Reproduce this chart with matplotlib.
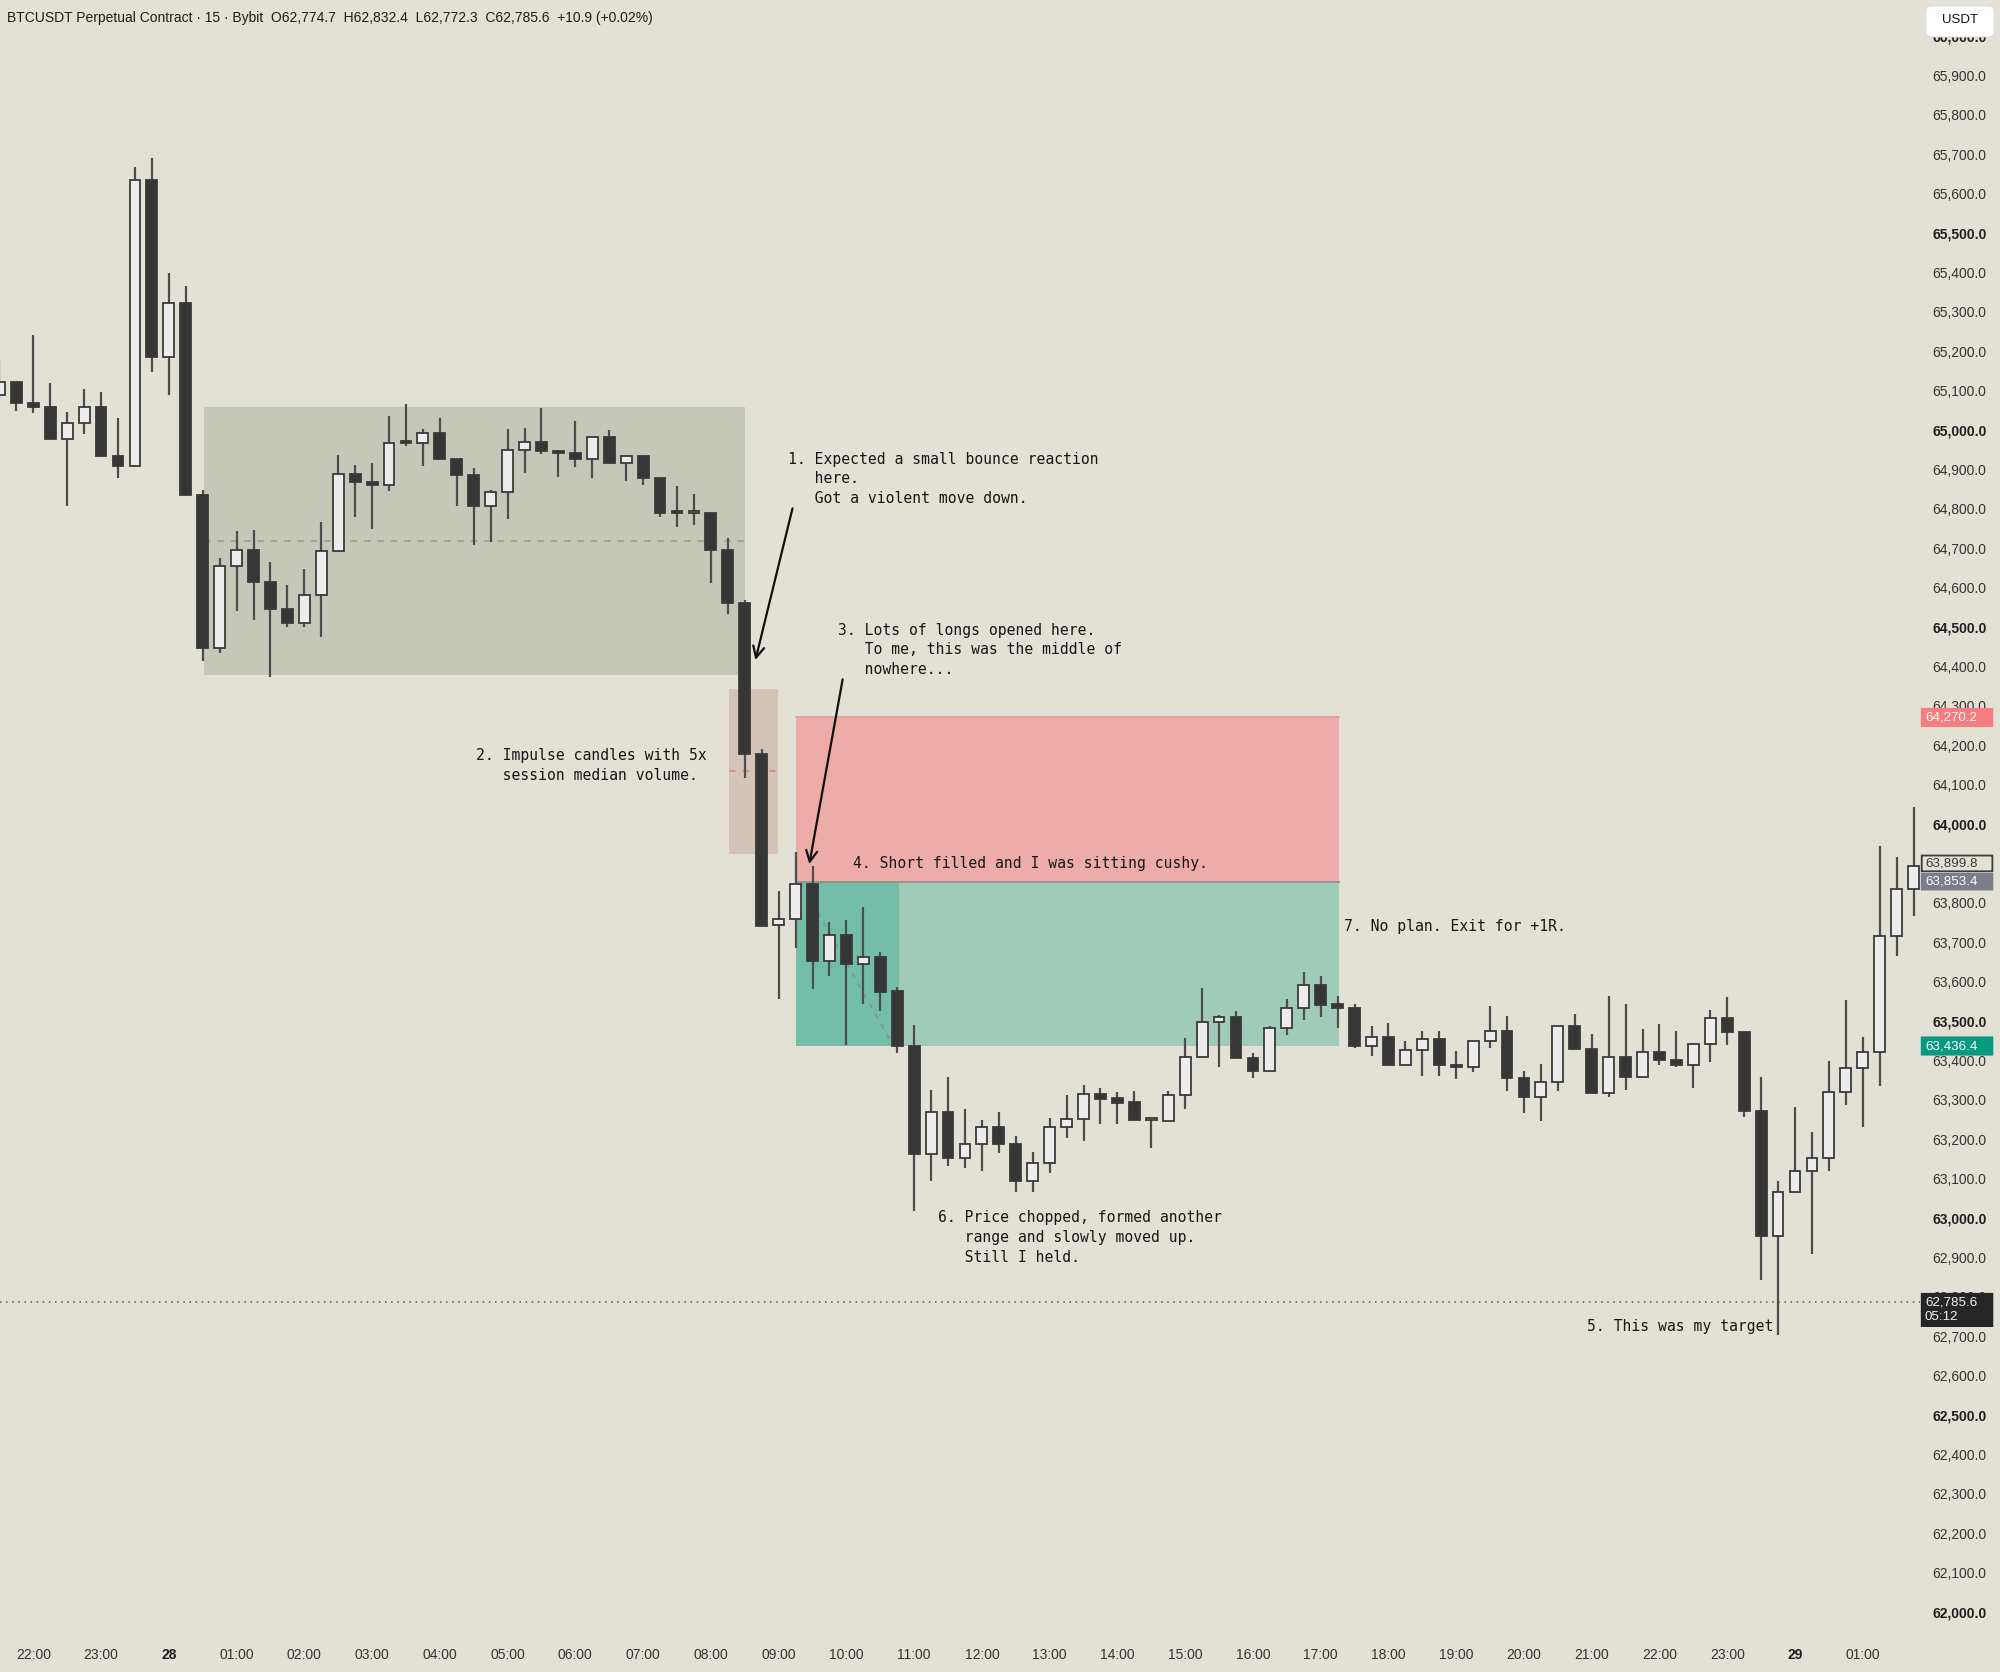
import numpy as np
import matplotlib.pyplot as plt
from matplotlib.patches import Rectangle, FancyBboxPatch
from matplotlib.transforms import blended_transform_factory

# 15m candles, index 0 = 22:00 (27th)
idx = np.arange(-2, 112)
opens = [65089, 65122, 65068, 65057, 64977, 65018, 65057, 64935, 64909, 65634,
         65184, 65323, 64834, 64447, 64655, 64696, 64615, 64546, 64510, 64581,
         64693, 64889, 64867, 64859, 64970, 64966, 64991, 64925, 64886, 64806,
         64842, 64950, 64969, 64947, 64941, 64925, 64983, 64916, 64935, 64877,
         64789, 64788, 64790, 64696, 64561, 64178, 63744, 63759, 63848, 63653,
         63718, 63645, 63663, 63575, 63437, 63162, 63270, 63152, 63188, 63232,
         63188, 63093, 63139, 63232, 63251, 63315, 63304, 63294, 63248, 63245,
         63312, 63408, 63498, 63509, 63405, 63374, 63482, 63534, 63592, 63543,
         63533, 63437, 63460, 63388, 63427, 63454, 63388, 63382, 63450, 63474,
         63355, 63306, 63344, 63488, 63429, 63317, 63408, 63359, 63421, 63401,
         63389, 63442, 63507, 63471, 63271, 62954, 63067, 63120, 63153, 63320,
         63380, 63421, 63715, 63836]
highs = [65181, 65122, 65242, 65120, 65045, 65104, 65095, 65030, 65668, 65689,
         65398, 65365, 64848, 64676, 64744, 64746, 64664, 64607, 64648, 64767,
         64936, 64912, 64915, 65036, 65066, 65002, 65030, 64925, 64903, 64847,
         65002, 65005, 65055, 64950, 65022, 64985, 65000, 64937, 64935, 64877,
         64857, 64838, 64790, 64725, 64568, 64189, 63831, 63928, 63893, 63752,
         63756, 63788, 63676, 63585, 63490, 63326, 63359, 63277, 63249, 63268,
         63207, 63167, 63255, 63312, 63338, 63329, 63319, 63323, 63249, 63321,
         63456, 63583, 63515, 63526, 63419, 63486, 63556, 63623, 63615, 63563,
         63543, 63486, 63495, 63450, 63475, 63475, 63425, 63450, 63537, 63513,
         63372, 63392, 63488, 63518, 63467, 63563, 63543, 63480, 63493, 63474,
         63444, 63529, 63560, 63471, 63359, 63094, 63282, 63217, 63398, 63552,
         63460, 63945, 63915, 64044]
lows = [65080, 65048, 65042, 64977, 64807, 64990, 64934, 64877, 64905, 65148,
        65088, 64834, 64413, 64433, 64540, 64518, 64374, 64499, 64499, 64474,
        64693, 64778, 64748, 64846, 64960, 64908, 64925, 64806, 64708, 64715,
        64774, 64891, 64939, 64880, 64905, 64877, 64916, 64871, 64860, 64778,
        64753, 64759, 64612, 64533, 64116, 63740, 63557, 63684, 63581, 63613,
        63440, 63543, 63526, 63419, 63018, 63094, 63133, 63128, 63118, 63165,
        63067, 63067, 63113, 63203, 63196, 63239, 63239, 63248, 63178, 63245,
        63277, 63408, 63382, 63405, 63355, 63374, 63464, 63503, 63509, 63481,
        63431, 63410, 63388, 63388, 63360, 63360, 63353, 63371, 63431, 63321,
        63266, 63245, 63321, 63429, 63317, 63306, 63325, 63359, 63389, 63384,
        63330, 63396, 63439, 63257, 62843, 62704, 63067, 62909, 63119, 63287,
        63230, 63335, 63665, 63767]
closes = [65122, 65068, 65057, 64977, 65018, 65057, 64935, 64909, 65634, 65184,
          65323, 64834, 64447, 64655, 64696, 64615, 64546, 64510, 64581, 64693,
          64889, 64867, 64859, 64968, 64966, 64991, 64925, 64886, 64806, 64842,
          64950, 64969, 64947, 64941, 64925, 64983, 64916, 64935, 64877, 64789,
          64788, 64790, 64696, 64561, 64178, 63742, 63759, 63848, 63653, 63718,
          63645, 63663, 63574, 63437, 63162, 63270, 63152, 63188, 63232, 63188,
          63093, 63139, 63232, 63251, 63315, 63302, 63292, 63248, 63249, 63312,
          63408, 63498, 63509, 63405, 63374, 63482, 63534, 63592, 63541, 63533,
          63437, 63460, 63388, 63427, 63454, 63388, 63382, 63450, 63474, 63355,
          63306, 63344, 63488, 63429, 63317, 63408, 63359, 63422, 63401, 63389,
          63442, 63507, 63471, 63271, 62954, 63067, 63120, 63153, 63320, 63380,
          63421, 63715, 63836, 63894]

time_ticks = [0, 4, 8, 12, 16, 20, 24, 28, 32, 36, 40, 44, 48, 52, 56, 60, 64,
              68, 72, 76, 80, 84, 88, 92, 96, 100, 104, 108]
time_labels = ['22:00', '23:00', '28', '01:00', '02:00', '03:00', '04:00',
               '05:00', '06:00', '07:00', '08:00', '09:00', '10:00', '11:00',
               '12:00', '13:00', '14:00', '15:00', '16:00', '17:00', '18:00',
               '19:00', '20:00', '21:00', '22:00', '23:00', '29', '01:00']
price_ticks = np.arange(62000, 66001, 100)

# drawings (index range, price range)
range_box = (10.1, 42.0, 64378, 65057)
impulse_box = (41.05, 43.98, 63924, 64343)
entry = 63853.4
stop = 64270.2
target = 63436.4
pos_span = (45.0, 77.1)
pos_open_until = 51.1
last_price = 62785.6
cur_price = 63899.8

notes = [
    (44.55, 64926, ['1. Expected a small bounce reaction',
                    '   here.',
                    '   Got a violent move down.']),
    (26.13, 64173, ['2. Impulse candles with 5x',
                    '   session median volume.']),
    (47.5, 64492, ['3. Lots of longs opened here.',
                   '   To me, this was the middle of',
                   '   nowhere...']),
    (48.39, 63900, ['4. Short filled and I was sitting cushy.']),
    (91.72, 62725, ['5. This was my target']),
    (53.38, 63000, ['6. Price chopped, formed another',
                    '   range and slowly moved up.',
                    '   Still I held.']),
    (77.37, 63739, ['7. No plan. Exit for +1R.']),
]
arrows = [((44.82, 64801), (42.63, 64416)),
          ((47.78, 64367), (45.81, 63898))]

BG = '#e3e1d5'
UP = '#ececec'
DOWN = '#363636'
EDGE = '#3a3a3a'
WICK = '#4d4d4d'


def main():
    fig = plt.figure(figsize=(20, 16.72), dpi=100, facecolor=BG)
    ax = fig.add_axes([0, 32 / 1672, 0.96, 1640 / 1672])
    ax.set_facecolor(BG)
    ax.set_xlim(-1.966, 111.38)
    ax.set_ylim(61929, 66091)
    for s in ax.spines.values():
        s.set_visible(False)

    draw_boxes(ax)
    draw_candles(ax)
    draw_notes(ax)
    draw_axes(fig, ax)

    fig.savefig('out.png', dpi=100, facecolor=BG)


def draw_boxes(ax):
    x0, x1, lo, hi = range_box
    ax.add_patch(Rectangle((x0, lo), x1 - x0, hi - lo, fc='#c5c7b9',
                           ec='none', zorder=1))
    ax.plot([x0, x1], [(lo + hi) / 2] * 2, ls=(0, (4, 4)), color='#9ea191',
            lw=1.2, zorder=1.5)

    x0, x1, lo, hi = impulse_box
    ax.add_patch(Rectangle((x0, lo), x1 - x0, hi - lo, fc='#d4c3b9',
                           ec='none', zorder=1))
    ax.plot([x0, x1], [(lo + hi) / 2] * 2, ls=(0, (4, 4)), color='#d08a86',
            lw=1.2, zorder=1.5)

    p0, p1 = pos_span
    ax.add_patch(Rectangle((p0, entry), p1 - p0, stop - entry, fc='#edaca8',
                           ec='none', zorder=1))
    ax.plot([p0, p1], [stop, stop], color='#e89a96', lw=1.2, zorder=1.5)
    ax.add_patch(Rectangle((p0, target), p1 - p0, entry - target,
                           fc='#a0cbb9', ec='none', zorder=1))
    ax.add_patch(Rectangle((p0, target), pos_open_until - p0, entry - target,
                           fc='#74bea9', ec='none', zorder=1.2))
    ax.plot([p0, p1], [entry, entry], color='#8d8f8c', lw=1.2, zorder=1.5)
    ax.plot([p0 + 0.3, 50.75], [entry, target + 2], ls=(0, (3, 4)),
            color='#7f968d', lw=1.2, zorder=1.6)

    ax.axhline(last_price, color='#555555', ls=(0, (1, 3)), lw=1.1, zorder=1.5)


def draw_candles(ax):
    o = np.array(opens, float)
    h = np.array(highs, float)
    l = np.array(lows, float)
    c = np.array(closes, float)
    up = c >= o
    bottom = np.minimum(o, c)
    height = np.maximum(np.abs(c - o), 5)
    ax.vlines(idx, l, h, color=WICK, lw=1.6, zorder=2)
    ax.bar(idx[up], height[up], bottom=bottom[up], width=0.64, color=UP,
           edgecolor=EDGE, linewidth=1.3, zorder=3)
    ax.bar(idx[~up], height[~up], bottom=bottom[~up], width=0.64, color=DOWN,
           edgecolor=EDGE, linewidth=1.3, zorder=3)


def draw_notes(ax):
    step = 50.3
    for x, y, lines in notes:
        for i, line in enumerate(lines):
            ax.text(x, y - i * step, line, family='DejaVu Sans Mono',
                    fontsize=10.6, color='#161616', va='center', ha='left',
                    zorder=6)
    for tail, head in arrows:
        ax.annotate('', xy=head, xytext=tail,
                    arrowprops=dict(arrowstyle='->', color='#111111', lw=1.6,
                                    mutation_scale=20, shrinkA=0, shrinkB=0),
                    zorder=6)


def price_tag(ax, y, lines, fc, tc, ec=None, hgt=44):
    tr = blended_transform_factory(ax.transAxes, ax.transData)
    h = hgt + 38 * (len(lines) - 1)
    top = y + hgt / 2
    ax.add_patch(FancyBboxPatch((1.0009, top - h), 0.0368, h,
                                boxstyle='round,pad=0,rounding_size=0.001',
                                transform=tr, fc=fc, ec=ec or fc, lw=1.3,
                                clip_on=False, zorder=8))
    for i, txt in enumerate(lines):
        ax.text(1.0026, y - i * 38, txt, transform=tr, fontsize=9.6,
                family='Liberation Sans', color=tc, va='center', ha='left',
                clip_on=False, zorder=9)


def draw_axes(fig, ax):
    ax.yaxis.tick_right()
    ax.set_yticks(price_ticks)
    ax.set_yticklabels([f'{p:,.1f}' for p in price_ticks])
    ax.tick_params(axis='y', length=0, pad=9, labelsize=10,
                   labelcolor='#333333')
    for lab, p in zip(ax.get_yticklabels(), price_ticks):
        lab.set_family('Liberation Sans')
        if p % 500 == 0:
            lab.set_fontweight('bold')
            lab.set_color('#1e1e1e')

    ax.set_xticks(time_ticks)
    ax.set_xticklabels(time_labels)
    ax.tick_params(axis='x', length=0, pad=6, labelsize=10,
                   labelcolor='#333333')
    for lab in ax.get_xticklabels():
        lab.set_family('Liberation Sans')
        if ':' not in lab.get_text():
            lab.set_fontweight('bold')
            lab.set_color('#1e1e1e')

    price_tag(ax, stop, [f'{stop:,.1f}'], '#f77c80', 'white')
    price_tag(ax, cur_price, [f'{cur_price:,.1f}'], BG, '#3a3a3a', '#3a3a3a',
              hgt=40)
    price_tag(ax, entry, [f'{entry:,.1f}'], '#7b7d88', 'white', hgt=40)
    price_tag(ax, target, [f'{target:,.1f}'], '#089981', 'white')
    price_tag(ax, last_price, [f'{last_price:,.1f}', '05:12'], '#262626',
              '#f2f2f2')

    # currency button
    fig.patches.append(FancyBboxPatch((1926 / 2000, 1 - 37 / 1672),
                                      68 / 2000, 31 / 1672,
                                      boxstyle='round,pad=0,rounding_size=0.003',
                                      transform=fig.transFigure, fc='white',
                                      ec='#dddddd', lw=0.8, zorder=10))
    fig.text(1960 / 2000, 1 - 20 / 1672, 'USDT', ha='center', va='center',
             fontsize=9.5, family='Liberation Sans', color='#111111',
             zorder=11)

    fig.text(7 / 2000, 1 - 18 / 1672,
             'BTCUSDT Perpetual Contract · 15 · Bybit  O62,774.7  H62,832.4  '
             'L62,772.3  C62,785.6  +10.9 (+0.02%)',
             ha='left', va='center', fontsize=10, family='Liberation Sans',
             color='#1c1c1c')


if __name__ == '__main__':
    main()
